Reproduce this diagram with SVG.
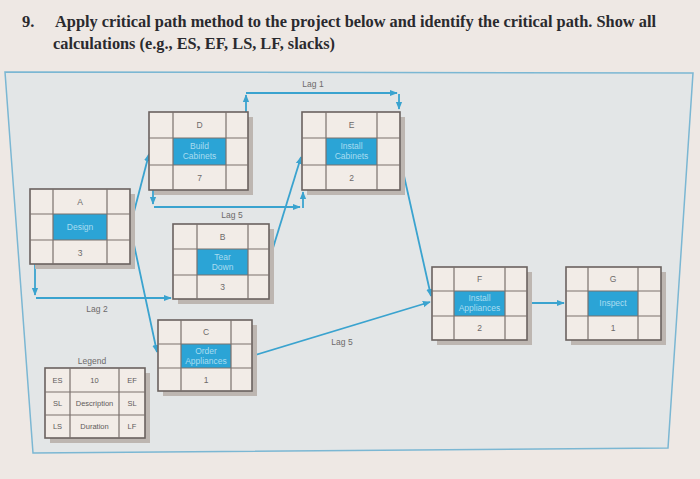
<svg xmlns="http://www.w3.org/2000/svg" width="700" height="479" viewBox="0 0 700 479">
<defs>
<marker id="ah" viewBox="0 0 10 10" refX="9" refY="5" markerWidth="8" markerHeight="8" markerUnits="userSpaceOnUse" orient="auto">
<path d="M0,1 L10,5 L0,9 Z" fill="#3aa3cf"/>
</marker>
<style>
.title{font-family:"Liberation Serif",serif;font-weight:bold;font-size:16.5px;fill:#2a2a2e}
.box{fill:#f2ece7;stroke:#6a625f;stroke-width:1.6}
.grid{stroke:#7a716d;stroke-width:1.2;fill:none}
.sh{fill:#bdb6b1}
.mid{fill:#2ba4d6}
.t{font-family:"Liberation Sans",Arial,sans-serif;font-size:8.5px;fill:#6d6a6a;text-anchor:middle}
.tb{font-family:"Liberation Sans",Arial,sans-serif;font-size:8.5px;fill:#a9dcf0;text-anchor:middle}
.lg{font-family:"Liberation Sans",Arial,sans-serif;font-size:7.5px;fill:#5e5a5a;text-anchor:middle}
.lab{font-family:"Liberation Sans",Arial,sans-serif;font-size:8.5px;fill:#6d6a6a;text-anchor:middle}
.c{fill:none;stroke:#3aa3cf;stroke-width:1.8}
</style>
</defs>
<rect width="700" height="479" fill="#eee8e4"/>
<text class="title" x="22" y="27">9.</text>
<text class="title" x="55" y="27" textLength="601" lengthAdjust="spacingAndGlyphs">Apply critical path method to the project below and identify the critical path.  Show all</text>
<text class="title" x="53" y="49" textLength="282" lengthAdjust="spacingAndGlyphs">calculations (e.g., ES, EF, LS, LF, slacks)</text>
<polygon points="5,72 693,73 668,448 33,453" fill="#e3e6e7" stroke="#7bb7d3" stroke-width="1.5"/>

<g id="connectors">
<path class="c" d="M129,231 L149,154" marker-end="url(#ah)"/>
<path class="c" d="M130,226 L157,352" marker-end="url(#ah)"/>
<path class="c" d="M35,264 V295" marker-end="url(#ah)"/>
<path class="c" d="M36,298 H171" marker-end="url(#ah)"/>
<text class="lab" x="97" y="312">Lag 2</text>
<path class="c" d="M153,190 V204" marker-end="url(#ah)"/>
<path class="c" d="M154,207 H300" marker-end="url(#ah)"/>
<path class="c" d="M303,208 V192" marker-end="url(#ah)"/>
<text class="lab" x="232" y="218">Lag 5</text>
<path class="c" d="M246,112 V95" marker-end="url(#ah)"/>
<path class="c" d="M246,93 H397" marker-end="url(#ah)"/>
<path class="c" d="M399,94 V109" marker-end="url(#ah)"/>
<text class="lab" x="313" y="87">Lag 1</text>
<path class="c" d="M269,261 L301,157" marker-end="url(#ah)"/>
<path class="c" d="M400,158 L431,296" marker-end="url(#ah)"/>
<path class="c" d="M252,356 L430,302" marker-end="url(#ah)"/>
<text class="lab" x="342" y="345">Lag 5</text>
<path class="c" d="M528,303 H564" marker-end="url(#ah)"/>
</g>

<g id="nodeA">
<rect class="sh" x="35" y="194" width="100" height="75"/>
<rect class="box" x="30" y="189" width="100" height="75"/>
<rect class="mid" x="53" y="214" width="54" height="26"/>
<path class="grid" d="M53,189 V264 M107,189 V264 M30,214 H130 M30,240 H130"/>
<text class="t" x="80" y="205">A</text>
<text class="tb" x="80" y="230">Design</text>
<text class="t" x="80" y="256">3</text>
</g>

<g id="nodeD">
<rect class="sh" x="154" y="117" width="99" height="78"/>
<rect class="box" x="149" y="112" width="99" height="78"/>
<rect class="mid" x="173" y="138" width="53" height="27"/>
<path class="grid" d="M173,112 V190 M226,112 V190 M149,138 H248 M149,165 H248"/>
<text class="t" x="199.5" y="128">D</text>
<text class="tb" x="199.5" y="149">Build</text>
<text class="tb" x="199.5" y="159">Cabinets</text>
<text class="t" x="199.5" y="181">7</text>
</g>

<g id="nodeB">
<rect class="sh" x="178" y="229" width="96" height="75"/>
<rect class="box" x="173" y="224" width="96" height="75"/>
<rect class="mid" x="197" y="249" width="51" height="26"/>
<path class="grid" d="M197,224 V299 M248,224 V299 M173,249 H269 M173,275 H269"/>
<text class="t" x="222.5" y="240">B</text>
<text class="tb" x="222.5" y="260">Tear</text>
<text class="tb" x="222.5" y="270">Down</text>
<text class="t" x="222.5" y="290">3</text>
</g>

<g id="nodeE">
<rect class="sh" x="307" y="117" width="98" height="78"/>
<rect class="box" x="302" y="112" width="98" height="78"/>
<rect class="mid" x="326" y="138" width="51" height="27"/>
<path class="grid" d="M326,112 V190 M377,112 V190 M302,138 H400 M302,165 H400"/>
<text class="t" x="351.5" y="128">E</text>
<text class="tb" x="351.5" y="149">Install</text>
<text class="tb" x="351.5" y="159">Cabinets</text>
<text class="t" x="351.5" y="181">2</text>
</g>

<g id="nodeC">
<rect class="sh" x="163" y="325" width="94" height="71"/>
<rect class="box" x="158" y="320" width="94" height="71"/>
<rect class="mid" x="181" y="344" width="50" height="24"/>
<path class="grid" d="M181,320 V391 M231,320 V391 M158,344 H252 M158,368 H252"/>
<text class="t" x="206" y="335">C</text>
<text class="tb" x="206" y="354">Order</text>
<text class="tb" x="206" y="364">Appliances</text>
<text class="t" x="206" y="383">1</text>
</g>

<g id="nodeF">
<rect class="sh" x="437" y="272" width="95" height="73"/>
<rect class="box" x="432" y="267" width="95" height="73"/>
<rect class="mid" x="454" y="291" width="51" height="25"/>
<path class="grid" d="M454,267 V340 M505,267 V340 M432,291 H527 M432,316 H527"/>
<text class="t" x="479.5" y="282">F</text>
<text class="tb" x="479.5" y="301">Install</text>
<text class="tb" x="479.5" y="311">Appliances</text>
<text class="t" x="479.5" y="331">2</text>
</g>

<g id="nodeG">
<rect class="sh" x="571" y="272" width="95" height="73"/>
<rect class="box" x="566" y="267" width="95" height="73"/>
<rect class="mid" x="588" y="291" width="50" height="25"/>
<path class="grid" d="M588,267 V340 M638,267 V340 M566,291 H661 M566,316 H661"/>
<text class="t" x="613" y="282">G</text>
<text class="tb" x="613" y="306">Inspect</text>
<text class="t" x="613" y="331">1</text>
</g>

<g id="legend">
<text class="lab" x="92" y="364">Legend</text>
<rect class="sh" x="50" y="373" width="100" height="70"/>
<rect class="box" x="45" y="368" width="100" height="70"/>
<path class="grid" d="M70,368 V438 M119,368 V438 M45,392 H145 M45,415 H145"/>
<text class="lg" x="57.5" y="383">ES</text>
<text class="lg" x="94.5" y="383">10</text>
<text class="lg" x="132" y="383">EF</text>
<text class="lg" x="57.5" y="406">SL</text>
<text class="lg" x="94.5" y="406" font-size="6.5">Description</text>
<text class="lg" x="132" y="406">SL</text>
<text class="lg" x="57.5" y="429">LS</text>
<text class="lg" x="94.5" y="429">Duration</text>
<text class="lg" x="132" y="429">LF</text>
</g>
</svg>
